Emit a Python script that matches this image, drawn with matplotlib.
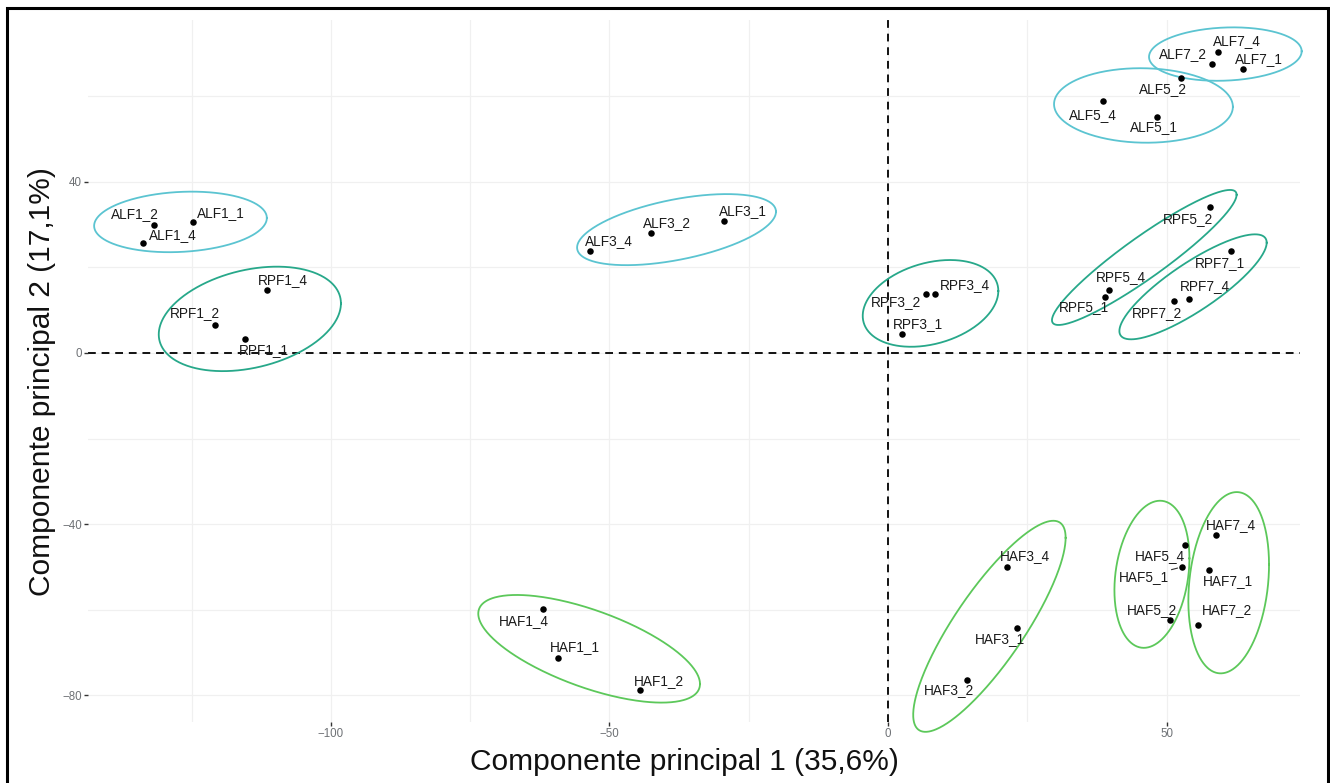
import numpy as np
import matplotlib
matplotlib.use("Agg")
import matplotlib.pyplot as plt
from matplotlib.patches import Rectangle

plt.rcParams['font.family'] = ['Liberation Sans', 'DejaVu Sans']

# PCA scores of each sample
samples = ["ALF1_1", "ALF1_2", "ALF1_4", "RPF1_4", "RPF1_2", "RPF1_1",
           "ALF3_1", "ALF3_2", "ALF3_4", "RPF3_2", "RPF3_4", "RPF3_1",
           "ALF7_4", "ALF7_2", "ALF7_1", "ALF5_2", "ALF5_4", "ALF5_1",
           "RPF5_2", "RPF5_4", "RPF5_1", "RPF7_1", "RPF7_4", "RPF7_2",
           "HAF3_4", "HAF3_1", "HAF3_2", "HAF5_4", "HAF5_1", "HAF5_2",
           "HAF7_4", "HAF7_1", "HAF7_2", "HAF1_4", "HAF1_1", "HAF1_2"]
pc1 = [-124.7, -131.7, -133.8, -111.5, -120.8, -115.5,
       -29.5, -42.5, -53.5, 6.8, 8.4, 2.6,
       59.3, 58.2, 63.8, 52.6, 38.5, 48.2,
       57.8, 39.7, 39.0, 61.5, 54.0, 51.3,
       21.3, 23.1, 14.2, 53.3, 52.7, 50.6,
       58.9, 57.6, 55.7, -62.0, -59.3, -44.5]
pc2 = [30.6, 29.9, 25.7, 14.6, 6.5, 3.2,
       30.9, 28.0, 23.7, 13.8, 13.8, 4.4,
       70.2, 67.6, 66.3, 64.3, 58.9, 55.1,
       34.0, 14.8, 13.0, 23.8, 12.7, 12.1,
       -50.1, -64.2, -76.5, -44.9, -50.0, -62.4,
       -42.6, -50.7, -63.6, -59.7, -71.3, -78.7]

# Concentration ellipses per group: centre, half extents and phase
ell_names = ["ALF1", "RPF1", "ALF3", "RPF3", "ALF5", "ALF7",
             "RPF5", "RPF7", "HAF3", "HAF5", "HAF7", "HAF1"]
ell_cx = [-127.0, -114.55, -37.96, 7.63, 45.85, 60.55,
          46.0, 54.75, 18.2, 47.37, 61.15, -53.65]
ell_cy = [30.6, 7.95, 28.8, 11.57, 57.8, 69.8,
          22.3, 15.44, -63.85, -51.7, -53.67, -69.1]
ell_rx = [15.5, 16.35, 17.85, 12.17, 16.05, 13.7,
          16.57, 13.22, 13.68, 6.73, 7.24, 19.9]
ell_ry = [7.07, 12.2, 8.3, 10.13, 8.7, 6.24,
          15.77, 12.26, 24.65, 17.18, 21.17, 12.57]
ell_phi = [82.5, 72.7, 59.7, 73.3, 92.0, 84.0,
           21.8, 32.7, 33.0, 77.5, 78.5, 130.8]

x_ticks = [-100, -50, 0, 50]
y_ticks = [-80, -40, 0, 40]

group_colors = {"ALF": "#5BC4D1", "RPF": "#27A88A", "HAF": "#5CC85A"}

# label offsets (pixels) for each sample
label_offsets = {
    "ALF1_1": (28, 9), "ALF1_2": (-19, 11), "ALF1_4": (30, 8),
    "RPF1_4": (16, 10), "RPF1_2": (-20, 12), "RPF1_1": (19, -11),
    "ALF3_1": (19, 10), "ALF3_2": (16, 10), "ALF3_4": (19, 10),
    "RPF3_2": (-30, -8), "RPF3_4": (30, 9), "RPF3_1": (15, 10),
    "ALF7_4": (19, 11), "ALF7_2": (-29, 9), "ALF7_1": (15, 10),
    "ALF5_2": (-18, -11), "ALF5_4": (-10, -14), "ALF5_1": (-3, -10),
    "RPF5_2": (-22, -12), "RPF5_4": (12, 13), "RPF5_1": (-21, -10),
    "RPF7_1": (-11, -12), "RPF7_4": (16, 13), "RPF7_2": (-17, -12),
    "HAF3_4": (18, 11), "HAF3_1": (-17, -11), "HAF3_2": (-18, -10),
    "HAF5_4": (-25, -11), "HAF5_1": (-38, -10), "HAF5_2": (-18, 10),
    "HAF7_4": (15, 10), "HAF7_1": (19, -11), "HAF7_2": (29, 15),
    "HAF1_4": (-19, -12), "HAF1_1": (17, 11), "HAF1_2": (19, 9),
}

W, H = 1330, 783
fig = plt.figure(figsize=(W / 100, H / 100), dpi=100)
fig.patch.set_facecolor("white")
ax = fig.add_axes([88 / W, 1 - 722 / H, (1300 - 88) / W, (722 - 20) / H])

ax.set_xlim(-143.6, 73.95)
ax.set_ylim(-86.2, 77.76)

# grid (major and minor, equally faint)
for v in np.arange(-125, 75, 25):
    ax.axvline(v, color="#F0F0F0", lw=0.9, zorder=0)
for v in np.arange(-80, 80, 20):
    ax.axhline(v, color="#F0F0F0", lw=0.9, zorder=0)

ax.axhline(0, color="#111111", lw=1.4, ls=(0, (4, 3)), zorder=1)
ax.axvline(0, color="#111111", lw=1.4, ls=(0, (4, 3)), zorder=1)

# ellipses
t = np.linspace(0, 2 * np.pi, 400)
for name, cx, cy, rx, ry, ph in zip(ell_names, ell_cx, ell_cy, ell_rx, ell_ry, ell_phi):
    phr = np.deg2rad(ph)
    ex = cx + rx * np.cos(t)
    ey = cy + ry * np.cos(t - phr)
    ax.plot(ex, ey, color=group_colors[name[:3]], lw=1.3, zorder=2, clip_on=False)

# points
ax.scatter(pc1, pc2, s=22, color="black", zorder=4, linewidths=0)

# labels
for name, x, y in zip(samples, pc1, pc2):
    dx, dy = label_offsets[name]
    kw = {}
    if name == "HAF5_1":
        kw["arrowprops"] = dict(arrowstyle="-", color="#333333", lw=0.8,
                                shrinkA=14, shrinkB=3)
    ax.annotate(name, (x, y), xytext=(dx, dy), textcoords="offset pixels",
                ha="center", va="center", fontsize=9.8, color="#1A1A1A",
                zorder=5, **kw)

for s in ax.spines.values():
    s.set_visible(False)
ax.set_xticks(x_ticks)
ax.set_yticks(y_ticks)
ax.set_xticklabels([str(v).replace("-", "\u2212") for v in x_ticks])
ax.set_yticklabels([str(v).replace("-", "\u2212") for v in y_ticks])
ax.tick_params(axis="both", length=3, width=1.0, color="#333333",
               labelsize=8.3, labelcolor="#6E7175", pad=1.5)

fig.text(684 / W, 1 - 762 / H, "Componente principal 1 (35,6%)",
         ha="center", va="center", fontsize=21.5, color="#111111")
fig.text(42 / W, 1 - 382 / H, "Componente principal 2 (17,1%)",
         ha="center", va="center", rotation=90, fontsize=21.5, color="#111111")

# outer frame
fig.patches.append(Rectangle((7 / W, -0.02), (1328 - 7) / W, 1 - 8 / H + 0.02,
                             transform=fig.transFigure, fill=False,
                             edgecolor="black", lw=2.2, zorder=10))

fig.savefig("out.png", dpi=100, facecolor="white")
